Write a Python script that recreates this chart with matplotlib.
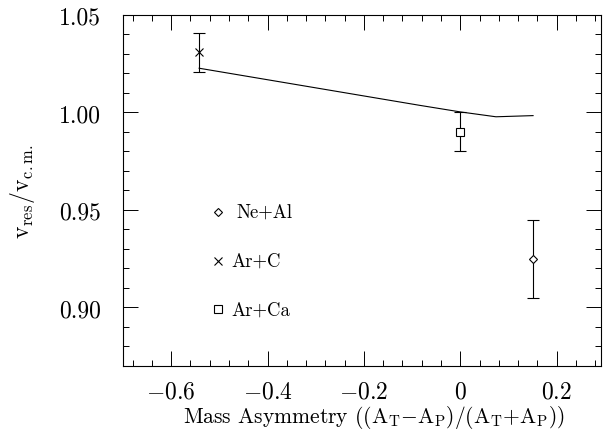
import numpy as np
import matplotlib.pyplot as plt
from matplotlib.ticker import MultipleLocator, FixedLocator

plt.rcParams['font.family'] = 'serif'
plt.rcParams['font.serif'] = ['cmr10', 'DejaVu Serif']
plt.rcParams['mathtext.fontset'] = 'cm'
plt.rcParams['axes.formatter.use_mathtext'] = True

# data points (mass asymmetry, v_res/v_cm, error)
labels = ['Ne+Al', 'Ar+C', 'Ar+Ca']
markers = ['D', 'x', 's']
x_pts = [0.151, -0.542, 0.0]
y_pts = [0.925, 1.031, 0.990]
y_err = [0.020, 0.010, 0.010]

# model curve
curve_x = [-0.542, -0.085, 0.0, 0.074, 0.151]
curve_y = [1.0227, 1.0037, 1.0003, 0.9978, 0.9984]

# hand-placed key
key_x = -0.503
key_y = [0.949, 0.924, 0.899]
key_text_x = [-0.465, -0.475, -0.475]

fig = plt.figure(figsize=(6.08, 4.31), dpi=100)
ax = fig.add_axes([0.2023, 0.1485, 0.7862, 0.8144])

ax.plot(curve_x, curve_y, color='black', lw=0.8)

sizes = {'D': 4.5, 'x': 6, 's': 6}
for xp, yp, ye, m in zip(x_pts, y_pts, y_err, markers):
    ax.errorbar(xp, yp, yerr=ye, fmt='none', ecolor='black', elinewidth=0.8,
                capsize=4, capthick=0.8)
    ax.plot(xp, yp, marker=m, ms=sizes[m], mfc='white' if m != 'x' else 'black',
            mec='black', mew=0.8, ls='none')

for ky, tx, lab, m in zip(key_y, key_text_x, labels, markers):
    ax.plot(key_x, ky, marker=m, ms=sizes[m], mfc='white' if m != 'x' else 'black',
            mec='black', mew=0.8, ls='none')
    ax.text(tx, ky, lab, fontsize=13.5, va='center', ha='left')

ax.set_xlim(-0.7, 0.292)
ax.set_ylim(0.87, 1.05)

ax.xaxis.set_major_locator(FixedLocator([-0.6, -0.4, -0.2, 0.0, 0.2]))
ax.xaxis.set_minor_locator(MultipleLocator(0.04))
ax.yaxis.set_major_locator(FixedLocator([0.90, 0.95, 1.00, 1.05]))
ax.yaxis.set_minor_locator(MultipleLocator(0.01))
ax.set_xticklabels(['$-0.6$', '$-0.4$', '$-0.2$', '$0$', '$0.2$'])
ax.set_yticklabels(['0.90', '0.95', '1.00', '1.05'])

ax.tick_params(which='both', direction='in', top=True, right=True,
               labelsize=17, width=0.7)
ax.tick_params(axis='y', pad=16)
ax.tick_params(axis='x', pad=10)
ax.tick_params(which='major', length=11)
ax.tick_params(which='minor', length=4.5)
for s in ax.spines.values():
    s.set_linewidth(0.8)

ax.set_ylabel(r'$\mathrm{v_{res}/v_{c.m.}}$', fontsize=17)
ax.yaxis.set_label_coords(-0.18, 0.5)
ax.set_xlabel(r'Mass Asymmetry ((A$_\mathrm{T}$$-$A$_\mathrm{P}$)/(A$_\mathrm{T}$+A$_\mathrm{P}$))',
              fontsize=15.5)
ax.xaxis.set_label_coords(0.525, -0.105)

fig.savefig('out.png', dpi=100)
